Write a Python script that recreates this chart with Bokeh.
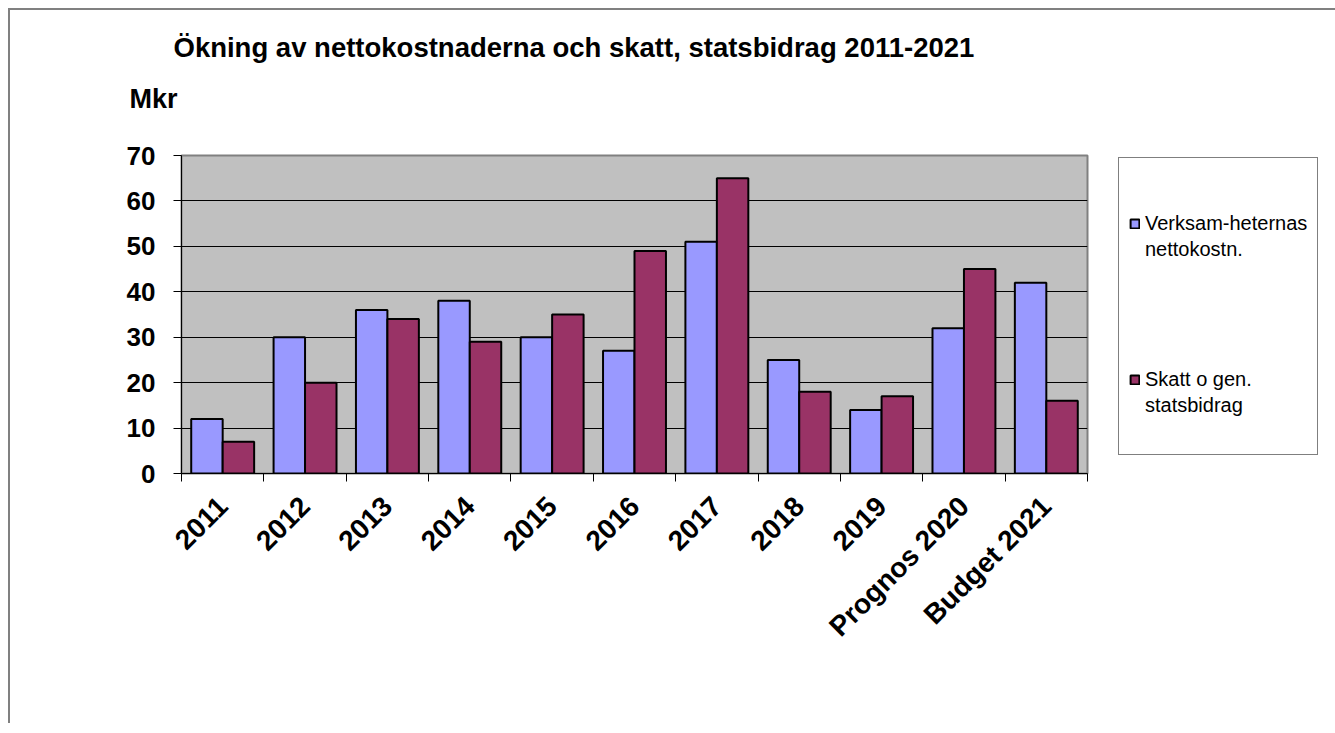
import math
from bokeh.plotting import figure
from bokeh.models import FixedTicker, Legend, LegendItem, Title, Range1d
from bokeh.embed import file_html
from bokeh.resources import INLINE

categories = ["2011", "2012", "2013", "2014", "2015", "2016", "2017", "2018", "2019",
              "Prognos 2020", "Budget 2021"]
verksamhet = [12, 30, 36, 38, 30, 27, 51, 25, 14, 32, 42]
skatt = [7, 20, 34, 29, 35, 49, 65, 18, 17, 45, 16]
y_ticks = [0, 10, 20, 30, 40, 50, 60, 70]
series_lines = [["Verksam-heternas", "nettokostn."], ["Skatt o gen.", "statsbidrag"]]
title_text = "Ökning av nettokostnaderna och skatt, statsbidrag 2011-2021"
unit_text = "Mkr"

FONT = "Liberation Sans"
n = len(categories)
bw = 0.382
centers = [i + 0.5 for i in range(n)]

p = figure(frame_width=906, frame_height=318,
           min_border_left=171, min_border_top=145,
           min_border_right=238, min_border_bottom=250,
           x_range=Range1d(0, n), y_range=Range1d(0, 70),
           output_backend="svg", toolbar_location=None, title=None)
p.styles = {"margin-left": "8px", "margin-top": "8px",
            "border-left": "2px solid #808080", "border-top": "2px solid #808080"}

p.background_fill_color = "#C0C0C0"
p.border_fill_color = "white"
p.outline_line_color = "#808080"
p.outline_line_width = 2

r1 = p.vbar(x=[c - bw / 2 for c in centers], width=bw, top=verksamhet,
            fill_color="#9999FF", line_color="black", line_width=2)
r2 = p.vbar(x=[c + bw / 2 for c in centers], width=bw, top=skatt,
            fill_color="#993366", line_color="black", line_width=2)
# invisible renderer used for text-only legend rows
blank = p.vbar(x=[], top=[], width=bw, fill_alpha=0, line_alpha=0)

p.xgrid.visible = False
p.ygrid.grid_line_color = "black"
p.ygrid.grid_line_width = 1
p.ygrid.ticker = FixedTicker(ticks=y_ticks)

ya = p.yaxis[0]
ya.ticker = FixedTicker(ticks=y_ticks)
ya.axis_line_color = "black"
ya.axis_line_width = 1
ya.major_tick_out = 8
ya.major_tick_in = 0
ya.minor_tick_out = 0
ya.minor_tick_in = 0
ya.major_tick_line_color = "black"
ya.major_label_text_font = FONT
ya.major_label_text_font_size = "26px"
ya.major_label_text_font_style = "bold"
ya.major_label_text_color = "black"
ya.major_label_standoff = 18

xa = p.xaxis[0]
xa.ticker = FixedTicker(ticks=centers, minor_ticks=list(range(n + 1)))
xa.major_label_overrides = {c: lab for c, lab in zip(centers, categories)}
xa.axis_line_color = "black"
xa.axis_line_width = 1
xa.major_tick_out = 0
xa.major_tick_in = 0
xa.minor_tick_out = 8
xa.minor_tick_in = 0
xa.minor_tick_line_color = "black"
xa.major_label_orientation = math.pi / 4
xa.major_label_text_font = FONT
xa.major_label_text_font_size = "28px"
xa.major_label_text_font_style = "bold"
xa.major_label_text_color = "black"
xa.major_label_standoff = 20

items = [
    LegendItem(label=series_lines[0][0], renderers=[r1]),
    LegendItem(label=series_lines[0][1], renderers=[blank]),
    LegendItem(label=" ", renderers=[blank]),
    LegendItem(label="  ", renderers=[blank]),
    LegendItem(label="   ", renderers=[blank]),
    LegendItem(label="    ", renderers=[blank]),
    LegendItem(label=series_lines[1][0], renderers=[r2]),
    LegendItem(label=series_lines[1][1], renderers=[blank]),
    LegendItem(label="     ", renderers=[blank]),
]
legend = Legend(items=items, location=(31, 18))
legend.title = " "
legend.title_text_font_size = "1px"
legend.title_standoff = 41
legend.label_text_font = FONT
legend.label_text_font_size = "20px"
legend.label_text_color = "black"
legend.label_height = 26
legend.glyph_width = 11
legend.glyph_height = 11
legend.label_standoff = 5
legend.padding = 10
legend.spacing = 0
legend.border_line_color = "black"
legend.border_line_width = 1
legend.background_fill_color = "white"
legend.background_fill_alpha = 1
legend.margin = 0
p.add_layout(legend, "right")

spacer = Title(text=" ", standoff=38, text_font=FONT, text_font_size="1px")
unit_title = Title(text=unit_text, align="left", offset=-52, standoff=2,
                   text_font=FONT, text_font_size="27px", text_font_style="bold",
                   text_color="black")
main_title = Title(text=title_text, align="left", offset=-8, standoff=36,
                   text_font=FONT, text_font_size="27.5px", text_font_style="bold",
                   text_color="black")
p.add_layout(spacer, "above")
p.add_layout(unit_title, "above")
p.add_layout(main_title, "above")

open("out.html", "w").write(file_html(p, INLINE))
